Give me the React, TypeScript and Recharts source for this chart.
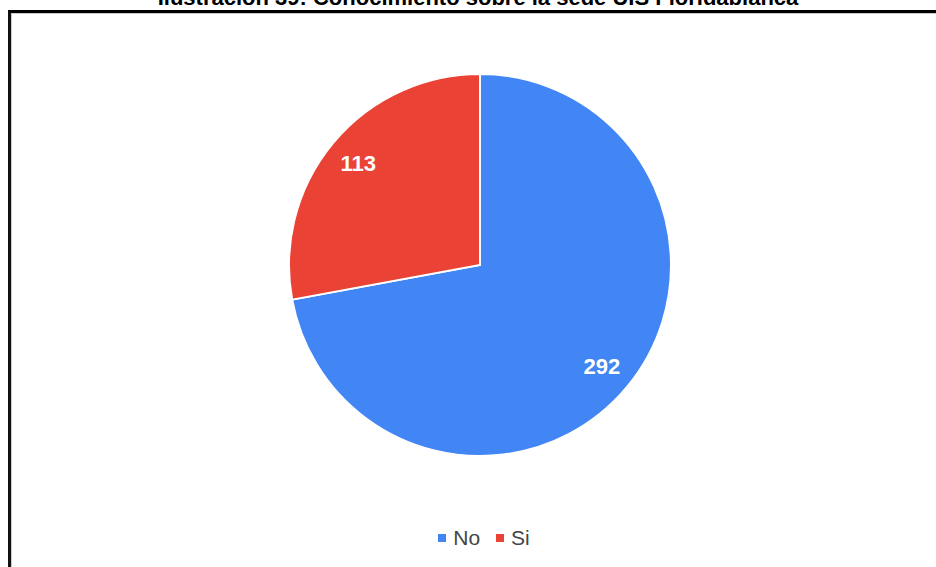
import { Legend, Pie, PieChart, Cell } from "recharts"

const categories = ["No", "Si"]
const counts = [292, 113]
const colors = ["#4285F4", "#EA4335"]

const title = "Ilustración 39: Conocimiento sobre la sede UIS Floridablanca"

const data = categories.map((name, i) => ({ name, value: counts[i] }))

const RADIAN = Math.PI / 180

const renderLabel = (props: any) => {
  const { cx, cy, midAngle, outerRadius, value } = props
  const r = outerRadius * 0.83
  const x = cx + r * Math.cos(-midAngle * RADIAN)
  const y = cy + r * Math.sin(-midAngle * RADIAN)
  return (
    <text
      x={x}
      y={y}
      fill="#fff"
      textAnchor="middle"
      dominantBaseline="central"
      fontFamily="Liberation Sans, Arial, sans-serif"
      fontWeight="bold"
      fontSize={22}
    >
      {value}
    </text>
  )
}

const renderLegend = (props: any) => {
  const { payload } = props
  return (
    <div style={{ display: "flex", justifyContent: "center", alignItems: "center" }}>
      {payload.map((entry: any, i: number) => (
        <div key={i} style={{ display: "flex", alignItems: "center", marginRight: i === 0 ? 16 : 0 }}>
          <span style={{ width: 8, height: 8, background: entry.color, display: "inline-block", marginRight: 7 }} />
          <span style={{ fontFamily: "Liberation Sans, Arial, sans-serif", fontSize: 21, color: "#444" }}>
            {entry.value}
          </span>
        </div>
      ))}
    </div>
  )
}

export default function App() {
  return (
    <div style={{ position: "absolute", left: 0, top: 0, width: 936, height: 567, background: "#fff", overflow: "hidden" }}>
      <svg width={936} height={20} style={{ position: "absolute", left: 0, top: 0 }}>
        <text
          x={478}
          y={5}
          textAnchor="middle"
          fontFamily="Liberation Sans, Arial, sans-serif"
          fontWeight="bold"
          fontSize={22}
          fill="#000"
        >
          {title}
        </text>
      </svg>
      <div
        style={{
          position: "absolute",
          left: 8,
          top: 10,
          width: 940,
          height: 600,
          borderLeft: "3px solid #111",
          borderTop: "3px solid #000",
          boxShadow: "inset 1px 1px 0 #ccc",
        }}
      />
      <div style={{ position: "absolute", left: 0, top: 0 }}>
        <PieChart width={936} height={567} margin={{ top: 0, right: 0, bottom: 0, left: 0 }}>
          <Pie
            data={data}
            dataKey="value"
            nameKey="name"
            cx={480}
            cy={265}
            outerRadius={191}
            startAngle={90}
            endAngle={-270}
            stroke="#fff"
            strokeWidth={2}
            label={renderLabel}
            labelLine={false}
            isAnimationActive={false}
          >
            {data.map((d, i) => (
              <Cell key={d.name} fill={colors[i]} />
            ))}
          </Pie>
          <Legend
            content={renderLegend}
            verticalAlign="bottom"
            wrapperStyle={{ top: 526, bottom: "auto", left: 16, width: 936 }}
          />
        </PieChart>
      </div>
    </div>
  )
}
